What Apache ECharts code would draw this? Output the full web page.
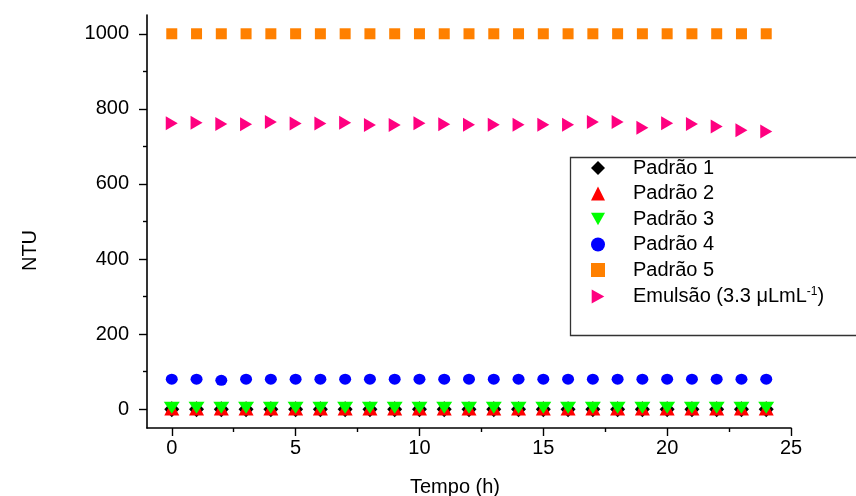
<!DOCTYPE html>
<html>
<head>
<meta charset="utf-8">
<script src="https://cdn.jsdelivr.net/npm/echarts@6/dist/echarts.min.js"></script>
<style>html,body{margin:0;padding:0;background:#fff}#c{width:856px;height:496px}</style>
</head>
<body>
<div id="c"></div>
<script>
const hours = [0,1,2,3,4,5,6,7,8,9,10,11,12,13,14,15,16,17,18,19,20,21,22,23,24];
const padrao1 = [0,0,0,0,0,0,0,0,0,0,0,0,0,0,0,0,0,0,0,0,0,0,0,0,0];
const padrao2 = [2,2,2,2,2,2,2,2,2,2,2,2,2,2,2,2,2,2,2,2,2,2,2,2,2];
const padrao3 = [4,4,4,4,4,4,4,4,4,4,4,4,4,4,4,4,4,4,4,4,4,4,4,4,4];
const padrao4 = [80,80,77,80,80,80,80,80,80,80,80,80,80,80,80,80,80,80,80,80,80,80,80,80,80];
const padrao5 = [1000,1000,1000,1000,1000,1000,1000,1000,1000,1000,1000,1000,1000,1000,1000,1000,1000,1000,1000,1000,1000,1000,1000,1000,1000];
const emulsao = [762,763,760,759,765,761,761,763,757,757,762,759,758,758,758,758,758,765,765,750,762,760,753,743,740];
const xMajorTicks = [0,5,10,15,20,25];
const xMinorTicks = [2.5,7.5,12.5,17.5,22.5];
const yMajorTicks = [0,200,400,600,800,1000];
const yMinorTicks = [100,300,500,700,900];
const seriesNames = ['Padrão 1','Padrão 2','Padrão 3','Padrão 4','Padrão 5','Emulsão (3.3 μLmL-1)'];

const pairs = arr => hours.map((h,i)=>[h,arr[i]]);
const font = 'Arial, "Liberation Sans", sans-serif';
const chart = echarts.init(document.getElementById('c'));
const axisLine = {show:true, onZero:false, lineStyle:{color:'#000', width:1.6}};
const plain = v => String(v);
const triDown = 'path://M0,0 L10,0 L5,9 Z';
const triRight = 'path://M0,0 L9,5 L0,10 Z';
chart.setOption({
  animation:false,
  backgroundColor:'#fff',
  grid:{left:147, top:15, right:65, bottom:68, containLabel:false, outerBoundsMode:'none'},
  xAxis:[{
    type:'value', min:-1, max:25,
    axisLine:axisLine,
    axisTick:{show:true, inside:false, length:8, customValues:xMajorTicks, lineStyle:{color:'#000',width:1.4}},
    axisLabel:{show:true, customValues:xMajorTicks, formatter:plain, margin:10, color:'#000', fontSize:20, fontFamily:font},
    splitLine:{show:false},
    name:'Tempo (h)', nameLocation:'middle', nameGap:49,
    nameTextStyle:{color:'#000', fontSize:20, fontFamily:font, padding:[0,28,0,0]}
  },{
    type:'value', min:-1, max:25, position:'bottom',
    axisLine:{show:false, onZero:false},
    axisTick:{show:true, length:4, customValues:xMinorTicks, lineStyle:{color:'#000',width:1.4}},
    axisLabel:{show:false}, splitLine:{show:false}
  }],
  yAxis:[{
    type:'value', min:-50, max:1050,
    axisLine:axisLine,
    axisTick:{show:true, inside:false, length:8, customValues:yMajorTicks, lineStyle:{color:'#000',width:1.4}},
    axisLabel:{show:true, customValues:yMajorTicks, formatter:plain, margin:18, color:'#000', fontSize:20, fontFamily:font},
    splitLine:{show:false},
    name:'NTU', nameLocation:'middle', nameGap:107,
    nameTextStyle:{color:'#000', fontSize:20, fontFamily:font, padding:[0,58,0,0]}
  },{
    type:'value', min:-50, max:1050, position:'left',
    axisLine:{show:false, onZero:false},
    axisTick:{show:true, length:4, customValues:yMinorTicks, lineStyle:{color:'#000',width:1.4}},
    axisLabel:{show:false}, splitLine:{show:false}
  }],
  legend:{
    orient:'vertical', left:586, top:153,
    itemWidth:14, itemHeight:14, itemGap:5.5,
    data:[
      {name:seriesNames[0]},
      {name:seriesNames[1]},
      {name:seriesNames[2], icon:triDown},
      {name:seriesNames[3]},
      {name:seriesNames[4]},
      {name:seriesNames[5], icon:triRight}
    ],
    textStyle:{color:'#000', fontSize:20, fontFamily:font, padding:[0,0,0,23],
      rich:{a:{fontSize:20, fontFamily:font, color:'#000'},
            s:{fontSize:12, fontFamily:font, color:'#000', verticalAlign:'top', padding:[0,0,10,0]}}},
    formatter:function(name){
      if(name.indexOf('Emuls')===0){ return '{a|Emulsão (3.3 μLmL}{s|-1}{a|)}'; }
      return name;
    }
  },
  graphic:[{type:'rect', left:568, top:155, shape:{width:300, height:178}, style:{fill:'none', stroke:'#333', lineWidth:1.3}, z:-1}],
  series:[
    {name:seriesNames[0], type:'scatter', data:pairs(padrao1), symbol:'diamond', symbolSize:[15,16], itemStyle:{color:'#000', opacity:1}},
    {name:seriesNames[1], type:'scatter', data:pairs(padrao2), symbol:'triangle', symbolSize:[15,14], itemStyle:{color:'#FF0000', opacity:1}},
    {name:seriesNames[2], type:'scatter', data:pairs(padrao3), symbol:'triangle', symbolRotate:180, symbolSize:[16,12], itemStyle:{color:'#00FF00', opacity:1}},
    {name:seriesNames[3], type:'scatter', data:pairs(padrao4), symbol:'circle', symbolSize:[12,11], itemStyle:{color:'#0000FF', opacity:1}},
    {name:seriesNames[4], type:'scatter', data:pairs(padrao5), symbol:'rect', symbolSize:11, itemStyle:{color:'#FF8000', opacity:1}},
    {name:seriesNames[5], type:'scatter', data:pairs(emulsao), symbol:'triangle', symbolRotate:-90, symbolSize:[14,12], itemStyle:{color:'#FF0080', opacity:1}}
  ]
});
</script>
</body>
</html>
